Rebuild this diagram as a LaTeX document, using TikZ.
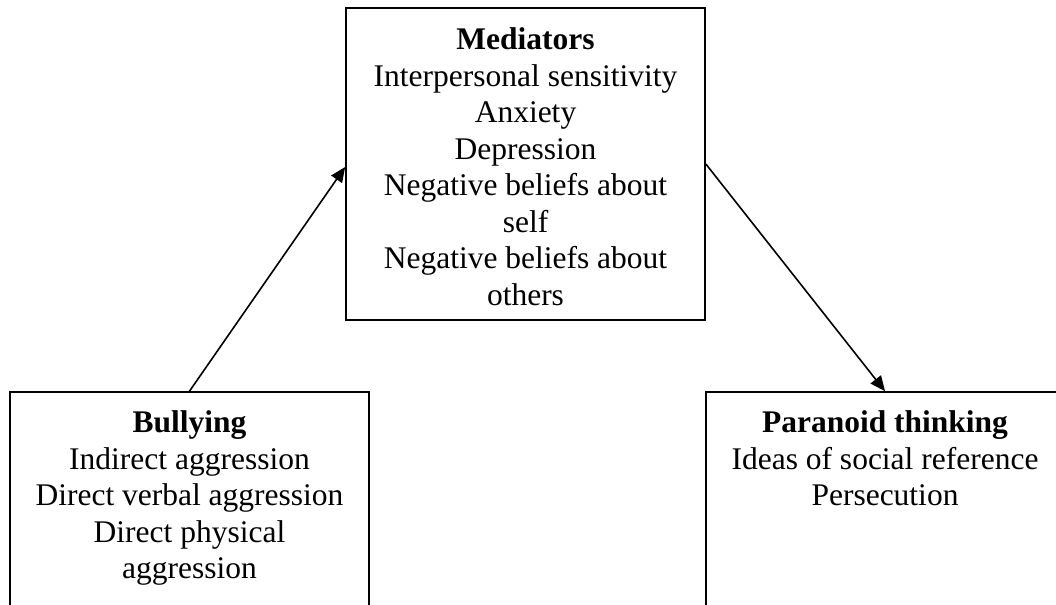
\documentclass[tikz,border=0pt]{standalone}
\usepackage{fontspec}
\setmainfont{Liberation Serif}
\usetikzlibrary{arrows.meta}
\tikzset{
  box/.style={draw=black, line width=0.85pt, rectangle, inner sep=0pt, minimum width=179.5pt},
  txt/.style={anchor=north, inner sep=0pt, align=center, font=\fontsize{15.75pt}{18.25pt}\selectfont},
  conn/.style={draw=black, line width=0.8pt, -{Triangle[length=7.5pt,width=6.5pt]}}
}
\begin{document}
\begin{tikzpicture}[x=0.5pt,y=-0.5pt]
\clip (0,0) rectangle (1056,605);
\fill[white] (0,0) rectangle (1056,605);
\node[box, minimum height=156pt] (med) at (525.5,164) {};
\node[box, minimum height=154pt] (bul) at (189.5,546) {};
\node[box, minimum width=179pt, minimum height=154pt] (par) at (885,546) {};
\node[txt] (medtxt) at (525.5,27.5) {\textbf{Mediators}\\Interpersonal sensitivity\\Anxiety\\Depression\\Negative beliefs about\\self\\Negative beliefs about\\others};
\node[txt] (bultxt) at (189.5,410.5) {\textbf{Bullying}\\Indirect aggression\\Direct verbal aggression\\Direct physical\\aggression};
\node[txt] (partxt) at (885,410.5) {\textbf{Paranoid thinking}\\Ideas of social reference\\Persecution};
\draw[conn] (bul.north) -- ([yshift=-1.5pt]med.west);
\draw[conn] (med.east) -- (par.north);
\end{tikzpicture}
\end{document}
